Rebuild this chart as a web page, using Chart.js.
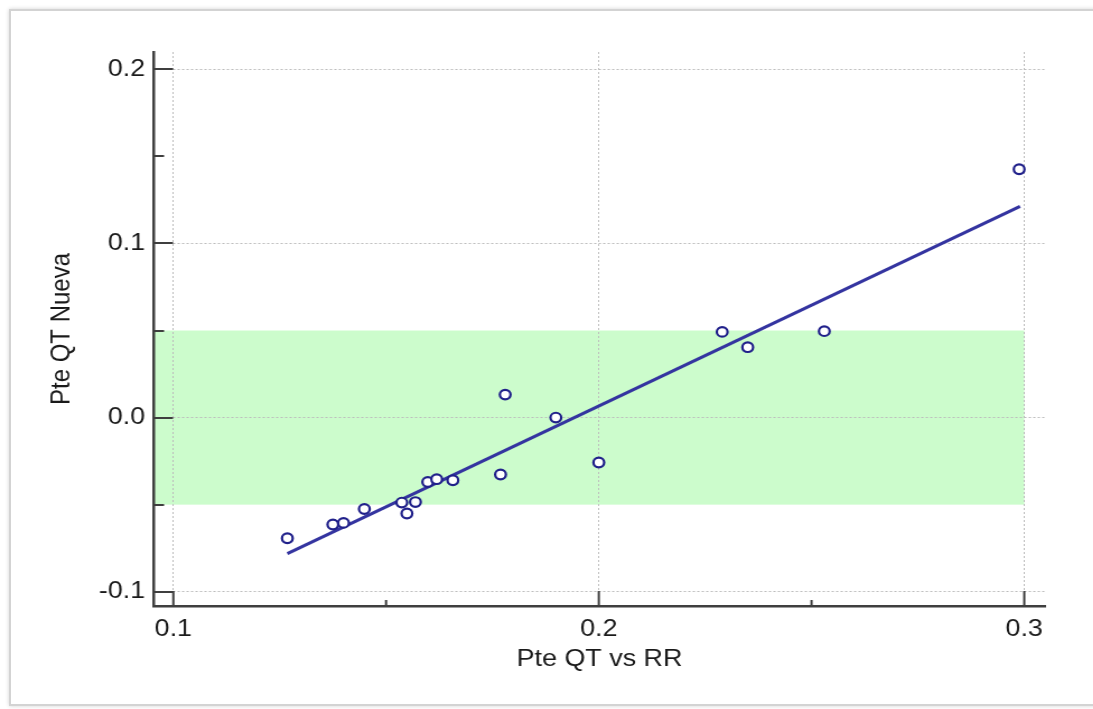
<!DOCTYPE html>
<html>
<head>
<meta charset="utf-8">
<script src="https://cdn.jsdelivr.net/npm/chart.js@4.4.1/dist/chart.umd.min.js"></script>
<style>
  html, body { margin: 0; padding: 0; background: #fff; width: 1093px; height: 709px; overflow: hidden; }
  #frame {
    position: absolute; left: 9px; top: 9px; width: 1110px; height: 693px;
    border: 2px solid #d3d3d3; box-shadow: 0 0 4px rgba(0,0,0,0.18); background: #fff;
  }
  #plot {
    position: absolute; left: 0; top: 0; width: 976px; height: 709px;
    transform: scaleX(1.12); transform-origin: 0 0;
  }
  canvas { display: block; }
</style>
</head>
<body>
<div id="frame"></div>
<div id="plot"><canvas id="chart" width="976" height="709"></canvas></div>
<script>
// Observed slopes: QT/RR slope (x) against the new QT slope (y)
const qtVsRR  = [0.1268, 0.1375, 0.1400, 0.1449, 0.1537, 0.1549, 0.1569, 0.1598, 0.1619,
                 0.1657, 0.1769, 0.1780, 0.1899, 0.2000, 0.2290, 0.2350, 0.2530, 0.2988];
const qtNueva = [-0.0693, -0.0614, -0.0605, -0.0525, -0.0488, -0.0551, -0.0485, -0.0370, -0.0354,
                 -0.0360, -0.0327, 0.0132, 0.0000, -0.0258, 0.0492, 0.0404, 0.0496, 0.1426];

// Fitted regression line end points
const fitX = [0.1268, 0.2990];
const fitY = [-0.0781, 0.1213];

// Axis ticks
const xTicks = [0.1, 0.2, 0.3];
const xMinorTicks = [0.15, 0.25];
const yTicks = [-0.1, 0.0, 0.1, 0.2];
const yMinorTicks = [-0.05, 0.05, 0.15];

// Reference band on the y axis
const bandLow = -0.05;
const bandHigh = 0.05;

const points = qtVsRR.map((x, i) => ({ x, y: qtNueva[i] }));
const fitLine = fitX.map((x, i) => ({ x, y: fitY[i] }));

const FONT = 'Liberation Sans, Arial, sans-serif';
const TEXT = '#1a1a1a';
const AXIS = '#3f3f3f';

// Green band between bandLow and bandHigh, from the y axis to the last x tick
const bandPlugin = {
  id: 'band',
  beforeDraw(chart) {
    const { ctx, chartArea, scales } = chart;
    const yTop = scales.y.getPixelForValue(bandHigh);
    const yBot = scales.y.getPixelForValue(bandLow);
    const xRight = scales.x.getPixelForValue(xTicks[xTicks.length - 1]);
    ctx.save();
    ctx.fillStyle = '#ccfccc';
    ctx.fillRect(chartArea.left, yTop, xRight - chartArea.left, yBot - yTop);
    ctx.restore();
  }
};

// Inward tick marks on both axes
const innerTicks = {
  id: 'innerTicks',
  afterDraw(chart) {
    const { ctx, chartArea, scales } = chart;
    ctx.save();
    ctx.strokeStyle = AXIS;
    ctx.lineWidth = 2;
    ctx.beginPath();
    yTicks.forEach(v => {
      const y = Math.round(scales.y.getPixelForValue(v));
      ctx.moveTo(chartArea.left, y); ctx.lineTo(chartArea.left + 17, y);
    });
    yMinorTicks.forEach(v => {
      const y = Math.round(scales.y.getPixelForValue(v));
      ctx.moveTo(chartArea.left, y); ctx.lineTo(chartArea.left + 9, y);
    });
    xTicks.forEach(v => {
      const x = scales.x.getPixelForValue(v);
      ctx.moveTo(x, chartArea.bottom); ctx.lineTo(x, chartArea.bottom - 15);
    });
    xMinorTicks.forEach(v => {
      const x = scales.x.getPixelForValue(v);
      ctx.moveTo(x, chartArea.bottom); ctx.lineTo(x, chartArea.bottom - 6);
    });
    ctx.stroke();
    ctx.restore();
  }
};

new Chart(document.getElementById('chart'), {
  type: 'scatter',
  data: {
    datasets: [
      {
        type: 'scatter',
        data: points,
        pointStyle: 'circle',
        pointRadius: 4.8,
        pointBorderWidth: 2.2,
        pointBorderColor: '#20208a',
        pointBackgroundColor: '#ffffff',
        order: 0
      },
      {
        type: 'line',
        data: fitLine,
        borderColor: '#3434a0',
        borderWidth: 3,
        pointRadius: 0,
        fill: false,
        order: 1
      }
    ]
  },
  options: {
    responsive: false,
    animation: false,
    devicePixelRatio: 1,
    events: [],
    layout: { padding: { left: 10, top: 52, right: 43, bottom: 10 } },
    plugins: { legend: { display: false }, tooltip: { enabled: false } },
    scales: {
      x: {
        type: 'linear',
        position: 'bottom',
        min: 0.09546,
        max: 0.30486,
        afterBuildTicks: s => { s.ticks = xTicks.map(v => ({ value: v })); },
        afterFit: s => { s.height = 709 - 10 - 606; },
        ticks: {
          padding: 9,
          autoSkip: false,
          maxRotation: 0,
          color: TEXT,
          font: { family: FONT, size: 24 },
          callback: v => Number(v).toFixed(1)
        },
        grid: { color: '#bdbdbd', lineWidth: 1, drawTicks: false },
        border: { display: true, color: AXIS, width: 2.5, dash: [2, 2] },
        title: {
          display: true,
          text: 'Pte QT vs RR',
          color: TEXT,
          font: { family: FONT, size: 24 },
          padding: { top: 0, bottom: 25 }
        }
      },
      y: {
        type: 'linear',
        position: 'left',
        min: -0.10821,
        max: 0.20994,
        afterBuildTicks: s => { s.ticks = yTicks.map(v => ({ value: v })); },
        afterFit: s => { s.width = 127.5; },
        ticks: {
          padding: 8,
          autoSkip: false,
          color: TEXT,
          font: { family: FONT, size: 24 },
          callback: v => Number(v).toFixed(1)
        },
        grid: { color: '#bdbdbd', lineWidth: 1, drawTicks: false },
        border: { display: true, color: AXIS, width: 2.5, dash: [2, 2] },
        title: {
          display: true,
          text: 'Pte QT Nueva',
          color: TEXT,
          font: { family: FONT, size: 24 },
          padding: { top: 31, bottom: 0 }
        }
      }
    }
  },
  plugins: [bandPlugin, innerTicks]
});
</script>
</body>
</html>
